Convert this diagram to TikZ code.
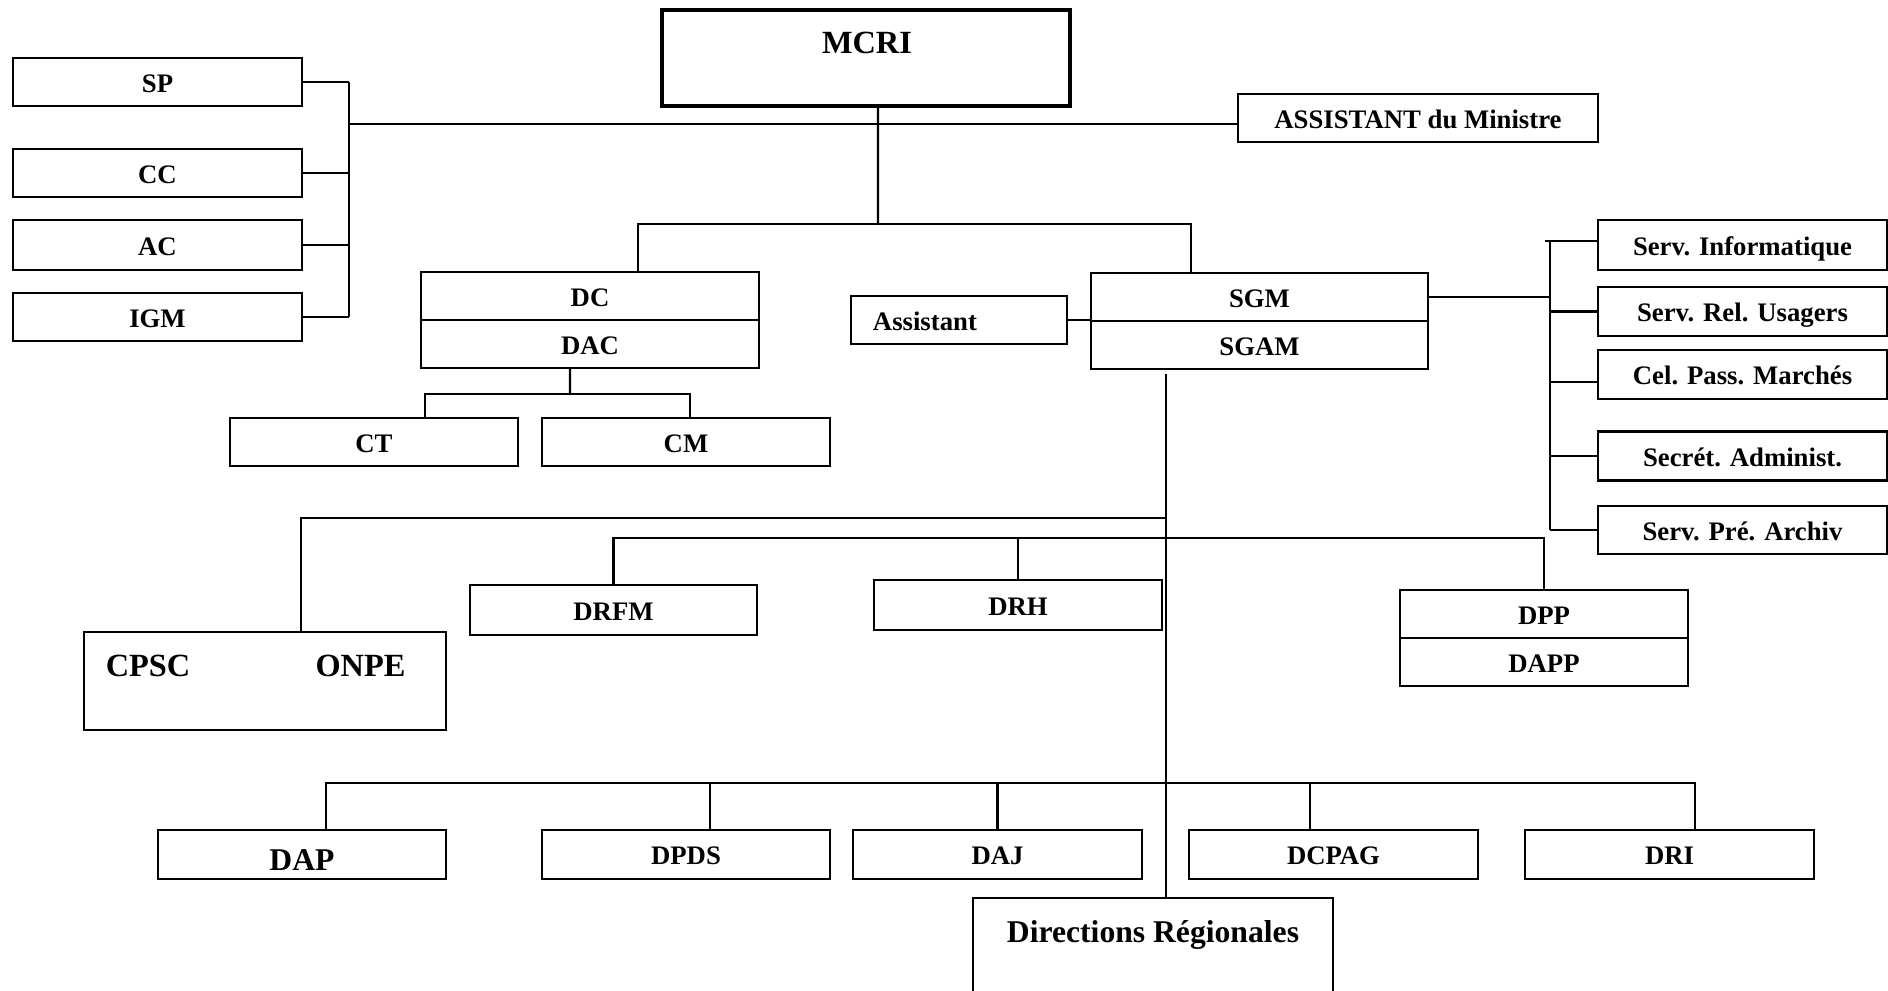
\documentclass[tikz,border=0pt]{standalone}
\usepackage{fontspec}
\setmainfont{Liberation Serif}
\usetikzlibrary{positioning}

\begin{document}
\begin{tikzpicture}[
    x=0.01cm, y=-0.01cm,
    box/.style={rectangle, draw, line width=0.6pt, inner sep=0pt, minimum height=0.48cm, text height=6.5pt, text depth=0.6pt, font=\fontsize{7.6}{9}\selectfont\bfseries, align=center},
    unit/.style={box, minimum width=2.88cm},
    bigbox/.style={rectangle, draw, line width=0.75pt, inner sep=0pt},
    bigtext/.style={inner sep=0pt, font=\fontsize{9.2}{11}\selectfont\bfseries},
    link/.style={line width=0.6pt},
]
    \clip (0,0) rectangle (1888,991);

    % Minister and his close staff
    \node[bigbox, line width=0.95pt, minimum width=4.08cm, minimum height=0.96cm] (mcri) at (866,58) {};
    \node[bigtext] (mcritxt) at (867,43) {MCRI};
    \node[box, minimum width=3.6cm] (asstmin) at (1418,118) {ASSISTANT du Ministre};

    % Left column
    \node[unit, minimum width=2.89cm] (sp) at (157.5,82) {SP};
    \node[unit, minimum width=2.89cm] (cc) at (157.5,173) {CC};
    \node[unit, minimum width=2.89cm, minimum height=0.5cm] (ac) at (157.5,245) {AC};
    \node[unit, minimum width=2.89cm] (igm) at (157.5,317) {IGM};

    % Cabinet and general secretariat
    \node[box, minimum width=3.38cm] (dc) at (590,296) {DC};
    \node[box, minimum width=3.38cm] (dac) at (590,344) {DAC};
    \node[box, inner xsep=0.22cm, text width=1.72cm, align=left] (assistant) at (959,320) {Assistant};
    \node[box, minimum width=3.37cm] (sgm) at (1259.5,297) {SGM};
    \node[box, minimum width=3.37cm] (sgam) at (1259.5,345) {SGAM};
    \node[unit] (ct) at (374,442) {CT};
    \node[unit] (cm) at (686,442) {CM};

    % Services attached to SGM
    \node[unit, minimum width=2.89cm, minimum height=0.5cm] (info) at (1742.5,245) {Serv. Informatique};
    \node[unit, minimum width=2.89cm, minimum height=0.49cm] (rel) at (1742.5,311.5) {Serv. Rel. Usagers};
    \node[unit, minimum width=2.89cm, minimum height=0.49cm] (cel) at (1742.5,374.5) {Cel. Pass. Marchés};
    \node[unit, minimum width=2.89cm, minimum height=0.49cm] (secret) at (1742.5,456) {Secrét. Administ.};
    \node[unit, minimum width=2.89cm] (archiv) at (1742.5,530) {Serv. Pré. Archiv};

    % Central directions
    \node[bigbox, minimum width=3.62cm, minimum height=0.98cm] (cpscbox) at (265,681) {};
    \node[bigtext] (cpsc) at (148,666) {CPSC};
    \node[bigtext] (onpe) at (360.5,666) {ONPE};
    \node[unit, minimum width=2.87cm, minimum height=0.5cm] (drfm) at (613.5,610) {DRFM};
    \node[unit, minimum height=0.5cm] (drh) at (1018,605) {DRH};
    \node[unit] (dpp) at (1544,614) {DPP};
    \node[unit] (dapp) at (1544,662) {DAPP};

    % Bottom row
    \node[unit, minimum height=0.49cm, font=\fontsize{9}{11}\selectfont\bfseries, text height=9pt, text depth=0pt] (dap) at (302,854.5) {DAP};
    \node[unit, minimum height=0.49cm] (dpds) at (686,854.5) {DPDS};
    \node[unit, minimum height=0.49cm] (daj) at (997.5,854.5) {DAJ};
    \node[unit, minimum height=0.49cm] (dcpag) at (1333.5,854.5) {DCPAG};
    \node[unit, minimum height=0.49cm] (dri) at (1669.5,854.5) {DRI};
    \node[bigbox, minimum width=3.6cm, minimum height=1.3cm] (dirreg) at (1153,963) {};
    \node[bigtext, font=\fontsize{9}{11}\selectfont\bfseries, below=0.23cm of dirreg.north] (dirregtxt) {Directions Régionales};

    % Junction points
    \coordinate (lbr) at (349,124);
    \coordinate (mjoin) at (878,224);
    \coordinate (dcjoin) at (570,394);
    \coordinate (rbr) at (1550,297);
    \coordinate (spine) at (1166,374);
    \coordinate (cpscjoin) at (1166,518);
    \coordinate (djoin) at (1166,538);
    \coordinate (bjoin) at (1166,783);

    % Links from the minister
    \draw[link] ([xshift=0.12cm]mcri.south) -- (mjoin);
    \draw[link] (lbr) -- (lbr -| asstmin.west);
    \draw[link] (sp.east -| lbr) -- (igm.east -| lbr);
    \draw[link] (sp.east) -- (sp.east -| lbr);
    \draw[link] (cc.east) -- (cc.east -| lbr);
    \draw[link] (ac.east) -- (ac.east -| lbr);
    \draw[link] (igm.east) -- (igm.east -| lbr);
    \draw[link] ([xshift=0.48cm]dc.north) |- (mjoin) -| ([xshift=-0.685cm]sgm.north);

    % Cabinet
    \draw[link] ([xshift=-0.2cm]dac.south) -- (dcjoin);
    \draw[link] ([xshift=0.51cm]ct.north) |- (dcjoin) -| ([xshift=0.04cm]cm.north);
    \draw[link] (assistant.east) -- (assistant.east -| sgm.west);

    % Services of SGM
    \coordinate (infoin) at ([yshift=0.04cm]info.west);
    \coordinate (celin) at ([yshift=-0.075cm]cel.west);
    \draw[link] (sgm.east) -- (rbr);
    \draw[link] (infoin -| rbr) -- (archiv.west -| rbr);
    \draw[link] ([xshift=-0.05cm]infoin -| rbr) -- (infoin);
    \draw[link] (rel.west -| rbr) -- (rel.west);
    \draw[link] (celin -| rbr) -- (celin);
    \draw[link] (secret.west -| rbr) -- (secret.west);
    \draw[link] (archiv.west -| rbr) -- (archiv.west);

    % Spine under SGAM
    \draw[link] (spine) -- (spine |- dirreg.north);
    \draw[link] (cpscjoin) -| ([xshift=0.36cm]cpscbox.north);
    \draw[link] (drfm.north) |- (djoin) -| (dpp.north);
    \draw[link] (drh.north) |- (djoin);

    % Bottom row links
    \draw[link] ([xshift=0.24cm]dap.north) |- (bjoin) -| ([xshift=0.255cm]dri.north);
    \draw[link] ([xshift=0.24cm]dpds.north) |- (bjoin);
    \draw[link] (daj.north) |- (bjoin);
    \draw[link] ([xshift=-0.235cm]dcpag.north) |- (bjoin);
\end{tikzpicture}
\end{document}
